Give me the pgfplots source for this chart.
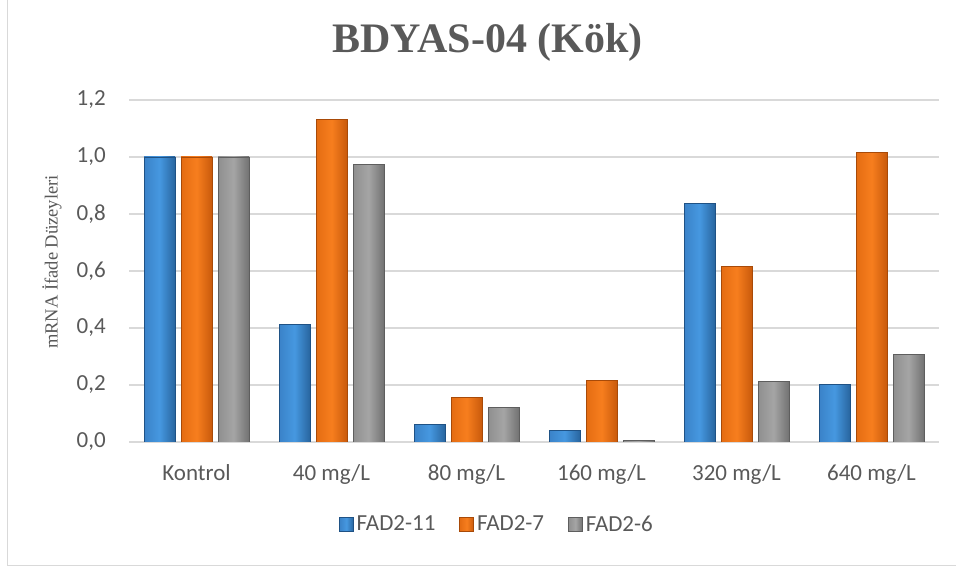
\documentclass[border=0pt]{standalone}
\usepackage{fontspec}
\setmainfont{Liberation Serif}
\newfontfamily\calibri{Carlito}
\usepackage{pgfplots}
\pgfplotsset{compat=1.18}
\definecolor{gridc}{HTML}{D9D9D9}
\definecolor{txt}{HTML}{595959}
\definecolor{bL}{HTML}{3A82C8}\definecolor{bM}{HTML}{4698E0}\definecolor{bR}{HTML}{28659F}\definecolor{bD}{HTML}{1F5285}
\definecolor{oL}{HTML}{E46C12}\definecolor{oM}{HTML}{F77E1E}\definecolor{oR}{HTML}{C95A0C}\definecolor{oD}{HTML}{A84A08}
\definecolor{gL}{HTML}{8F8F8F}\definecolor{gM}{HTML}{A5A5A5}\definecolor{gR}{HTML}{727272}\definecolor{gD}{HTML}{5E5E5E}
\pgfplotstableread{
x  fa  fb  fc
0  1.000 1.000 1.000
1  0.412 1.132 0.974
2  0.062 0.157 0.122
3  0.041 0.217 0.005
4  0.837 0.617 0.213
5  0.201 1.016 0.307
}\datatable
\begin{document}
\begin{tikzpicture}[x=1pt,y=1pt]
\useasboundingbox (0,0) rectangle (956,567);
\draw[gridc, line width=1.5pt] (7.5,567) -- (7.5,1.5) -- (956,1.5);
\node[font=\fontsize{42}{48}\selectfont\bfseries, text=txt] at (487.5,525) {BDYAS-04 (Kök)};
\node[rotate=90, font=\fontsize{18.5}{22}\selectfont, text=txt] at (52,305) {mRNA İfade Düzeyleri};
\begin{axis}[
  at={(129pt,125pt)}, anchor=south west, scale only axis,
  width=810pt, height=342pt,
  xmin=-0.5, xmax=5.5, ymin=0, ymax=1.2,
  ybar, bar width=31pt,
  xtick={0,...,5},
  xticklabels={Kontrol,40 mg/L,80 mg/L,160 mg/L,320 mg/L,640 mg/L},
  ytick distance=0.2,
  ymajorgrids, grid style={gridc, line width=1.5pt},
  axis line style={draw=none},
  major tick length=0pt,
  tick label style={font=\calibri\fontsize{23}{27}\selectfont, text=txt},
  yticklabel style={inner sep=0pt, xshift=-23pt,
    /pgf/number format/fixed, /pgf/number format/fixed zerofill,
    /pgf/number format/precision=1, /pgf/number format/use comma,
    /pgf/number format/assume math mode=true},
  xticklabel style={inner sep=0pt, yshift=-22pt},
  legend style={at={(axis description cs:0.4543,-0.2398)}, anchor=center,
    draw=none, fill=none, font=\calibri\fontsize{23}{27}\selectfont, text=txt,
    /tikz/every even column/.append style={column sep=22pt}},
  legend columns=3,
  mybar/.style={line width=0.6pt,
    legend image code/.code={\draw[##1, line width=0.6pt] (0pt,-7pt) rectangle (14pt,7pt); \path (15pt,0pt);}},
  sA/.style={mybar, draw=bD, left color=bL, right color=bR, middle color=bM},
  sB/.style={mybar, draw=oD, left color=oL, right color=oR, middle color=oM},
  sC/.style={mybar, draw=gD, left color=gL, right color=gR, middle color=gM},
]
\pgfplotsinvokeforeach{0,...,5}{
  \addplot[sA, bar shift=-37pt, forget plot, restrict x to domain=#1:#1] table[x=x,y=fa] {\datatable};
  \addplot[sB, bar shift=0pt, forget plot, restrict x to domain=#1:#1] table[x=x,y=fb] {\datatable};
  \addplot[sC, bar shift=37pt, forget plot, restrict x to domain=#1:#1] table[x=x,y=fc] {\datatable};
}
\addlegendimage{sA}\addlegendentry{FAD2-11}
\addlegendimage{sB}\addlegendentry{FAD2-7}
\addlegendimage{sC}\addlegendentry{FAD2-6}
\end{axis}
\end{tikzpicture}
\end{document}
